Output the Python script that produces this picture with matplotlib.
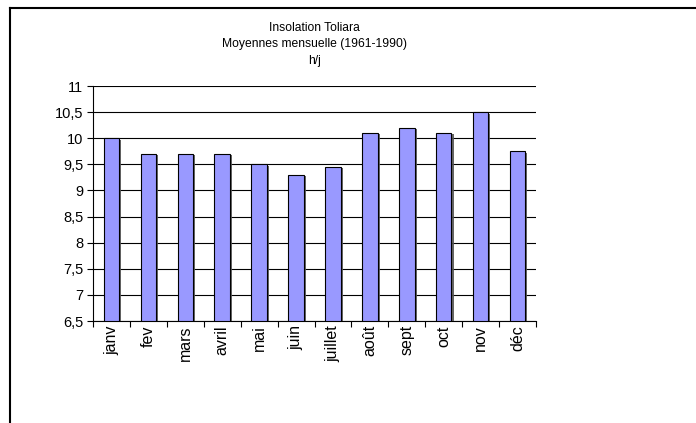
import numpy as np
import matplotlib
matplotlib.use("Agg")
import matplotlib.pyplot as plt
import matplotlib.patheffects as pe
from matplotlib.lines import Line2D

months = ["janv", "fev", "mars", "avril", "mai", "juin", "juillet",
          "août", "sept", "oct", "nov", "déc"]
insolation = [10.0, 9.7, 9.7, 9.7, 9.5, 9.3, 9.45, 10.1, 10.2, 10.1, 10.5, 9.75]
y_ticks = [6.5, 7, 7.5, 8, 8.5, 9, 9.5, 10, 10.5, 11]
title_lines = ["Insolation Toliara", "Moyennes mensuelle (1961-1990)", "h/j"]

plt.rcParams['font.family'] = ['Liberation Sans', 'DejaVu Sans']

W, H = 696, 423
fig = plt.figure(figsize=(W / 100, H / 100), dpi=100)

# outer frame: top and left lines only
fig.add_artist(Line2D([9.5 / W, 1], [1 - 8 / H, 1 - 8 / H], color="black", lw=1.5,
                      transform=fig.transFigure))
fig.add_artist(Line2D([9.5 / W, 9.5 / W], [0, 1 - 8 / H], color="black", lw=1.5,
                      transform=fig.transFigure))

left, right, top, bottom = 93, 536, 86, 321
ax = fig.add_axes([left / W, 1 - bottom / H, (right - left) / W, (bottom - top) / H])

x = np.arange(len(months))
base = y_ticks[0]
bars = ax.bar(x, np.array(insolation) - base, bottom=base, width=0.42,
              color="#9999FF", edgecolor="black", linewidth=0.8, zorder=3)
for b in bars:
    b.set_path_effects([pe.SimplePatchShadow(offset=(1.5, -1), shadow_rgbFace="#555555", alpha=0.9),
                        pe.Normal()])

ax.set_xlim(-0.5, len(months) - 0.5)
ax.set_ylim(6.5, 11)
ax.set_yticks(y_ticks)
ax.set_yticklabels([f"{v:g}".replace(".", ",") for v in y_ticks], fontsize=10.5)
ax.yaxis.grid(True, color="black", linewidth=0.8, zorder=0)
ax.set_axisbelow(True)

ax.set_xticks(x)
ax.set_xticklabels(months, rotation=90, fontsize=11.5)
ax.set_xticks(np.arange(-0.5, len(months)), minor=True)
ax.tick_params(axis="x", which="major", length=0, pad=3)
ax.tick_params(axis="x", which="minor", length=4, width=0.8, direction="out")
ax.tick_params(axis="y", length=4, width=0.8, direction="out", pad=3)

for s in ["top", "right"]:
    ax.spines[s].set_visible(False)
ax.spines["left"].set_linewidth(0.8)
ax.spines["bottom"].set_linewidth(0.8)

cx = (left + right) / 2 / W
for i, line in enumerate(title_lines):
    fig.text(cx, 1 - (28 + 16.5 * i) / H, line, ha="center", va="center", fontsize=8.7)

fig.savefig("out.png", dpi=100)
